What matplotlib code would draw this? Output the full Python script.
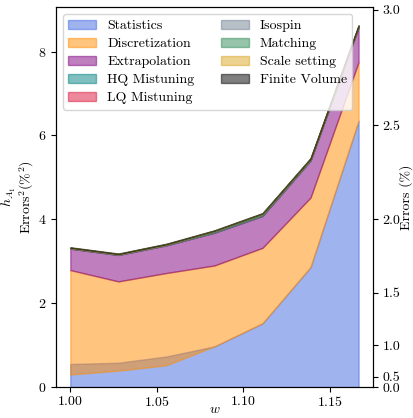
import numpy as np
import matplotlib
matplotlib.use("Agg")
import matplotlib.pyplot as plt

plt.rcParams['font.family'] = 'serif'
plt.rcParams['font.serif'] = ['cmr10']
plt.rcParams['mathtext.fontset'] = 'cm'
plt.rcParams['axes.formatter.use_mathtext'] = True
plt.rcParams['font.size'] = 10

# recoil w, 7 points
w = [1.0, 1.02778, 1.05556, 1.08333, 1.11111, 1.13889, 1.16667]

# error budget squared (%^2)
statistics = [0.55, 0.58, 0.73, 0.97, 1.52, 2.86, 6.35]
# discretization band starts this far below the stats top (overlap in the original)
disc_overlap = [0.25, 0.19, 0.21, 0.0, 0.0, 0.0, 0.0]
discretization = [2.49, 2.13, 2.20, 1.93, 1.80, 1.66, 1.40]
extrapolation = [0.51, 0.63, 0.66, 0.78, 0.76, 0.88, 0.83]
hq_mistuning = [0.005, 0.005, 0.005, 0.01, 0.01, 0.01, 0.01]
lq_mistuning = [0.003, 0.003, 0.003, 0.003, 0.003, 0.003, 0.003]
isospin = [0.003, 0.003, 0.003, 0.003, 0.003, 0.003, 0.003]
matching = [0.01, 0.01, 0.015, 0.03, 0.04, 0.03, 0.02]
scale_setting = [0.003, 0.003, 0.003, 0.003, 0.003, 0.003, 0.003]
finite_volume = [0.01, 0.01, 0.01, 0.01, 0.01, 0.01, 0.01]

right_ticks = [0.0, 0.5, 1.0, 1.5, 2.0, 2.5, 3.0]

layers = [
    ("Statistics", statistics, "royalblue"),
    ("Discretization", discretization, "darkorange"),
    ("Extrapolation", extrapolation, "purple"),
    ("HQ Mistuning", hq_mistuning, "teal"),
    ("LQ Mistuning", lq_mistuning, "crimson"),
    ("Isospin", isospin, "slategray"),
    ("Matching", matching, "seagreen"),
    ("Scale setting", scale_setting, "goldenrod"),
    ("Finite Volume", finite_volume, "black"),
]

fig = plt.figure(figsize=(4.14, 4.18), dpi=100)
ax = fig.add_axes([0.135, 0.074, 0.766, 0.909])

x = np.array(w)
base = np.zeros(len(x))
for i, (name, vals, col) in enumerate(layers):
    vals = np.array(vals)
    if i == 1:
        base = base - np.array(disc_overlap)
    ax.fill_between(x, base, base + vals, color=col, alpha=0.5, label=name)
    base = base + vals

ax.set_ylim(0, base.max() * 1.05)
ax.set_xlabel("$w$")
ax.xaxis.set_label_coords(0.5, -0.043)
ax.tick_params(axis='x', pad=2)
ax.set_ylabel("$h_{A_1}$\nErrors$^2$(%$^2$)", linespacing=1.0)
ax.yaxis.set_label_coords(-0.062, 0.5)
ax.set_yticks([0, 2, 4, 6, 8])
ax.legend(loc="upper left", ncol=2, fontsize=10, columnspacing=1.9,
          handlelength=2.0, labelspacing=0.38)

ax2 = ax.twinx()
ax2.set_ylim(ax.get_ylim())
ax2.set_yticks([t ** 2 for t in right_ticks])
ax2.set_yticklabels(["%.1f" % t for t in right_ticks])
ax2.set_ylabel("Errors (%)")
ax2.yaxis.set_label_coords(1.082, 0.5)

fig.savefig("out.png", dpi=100)
